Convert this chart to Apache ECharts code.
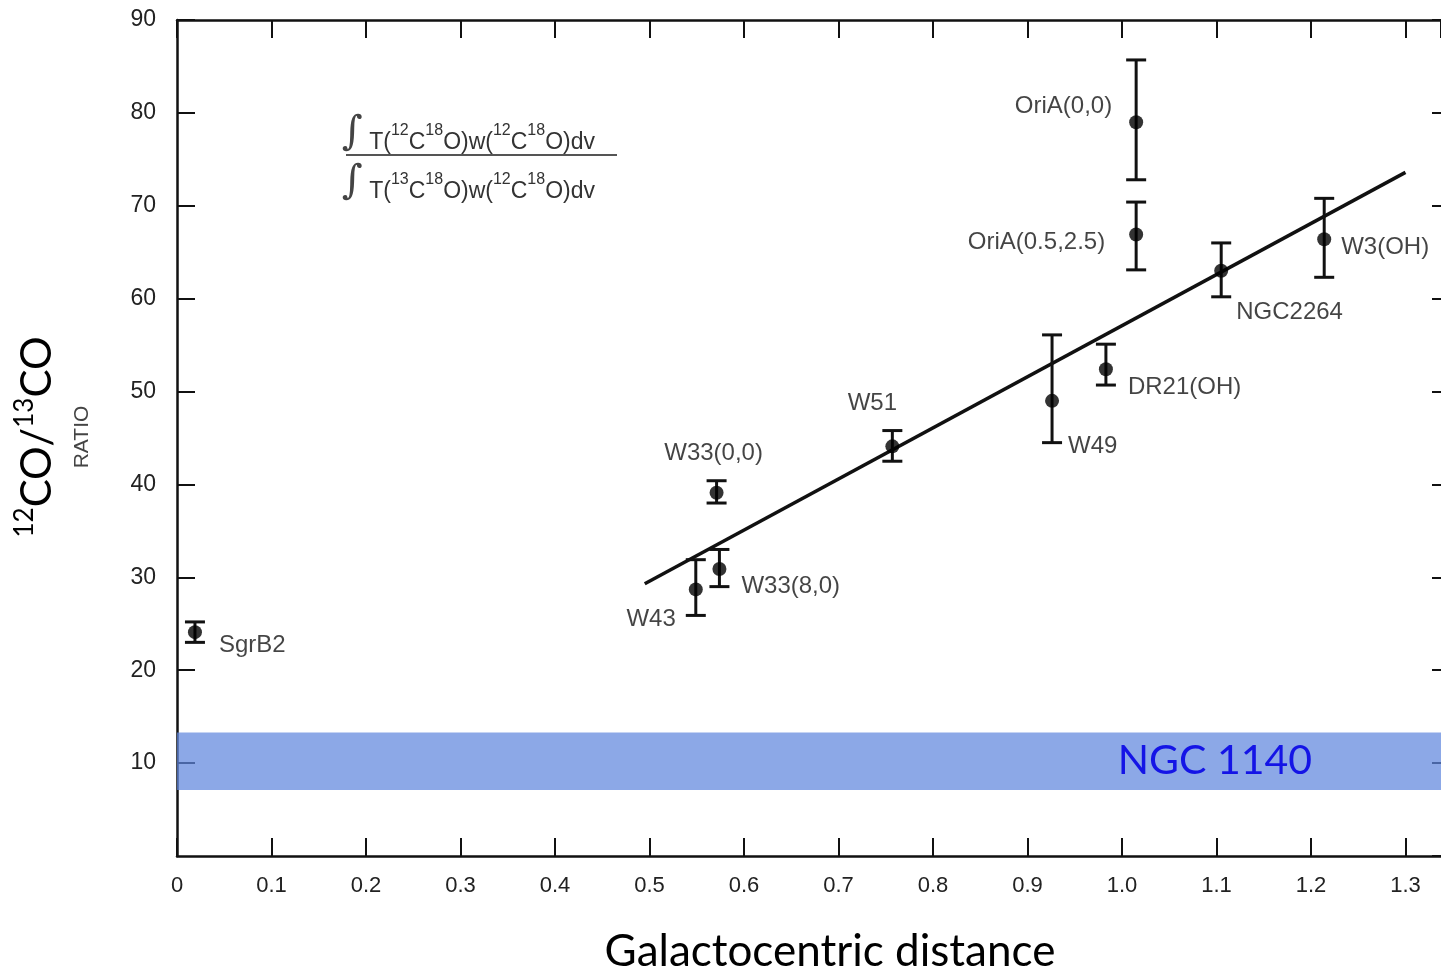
<!DOCTYPE html>
<html><head><meta charset="utf-8">
<script src="https://cdn.jsdelivr.net/npm/echarts@6/dist/echarts.min.js"></script>
<style>html,body{margin:0;padding:0;background:#fff}#c{width:1441px;height:972px}</style>
</head><body><div id="c"></div>
<script>
// ---- data ----
const names  = ['SgrB2','W43','W33(8,0)','W33(0,0)','W51','W49','DR21(OH)','OriA(0,0)','OriA(0.5,2.5)','NGC2264','W3(OH)'];
const xs     = [0.019, 0.549, 0.574, 0.571, 0.757, 0.926, 0.983, 1.015, 1.015, 1.105, 1.214];
const ys     = [24.1, 28.7, 30.9, 39.1, 44.1, 49.0, 52.4, 79.0, 66.9, 63.0, 66.4];
const errLo  = [23.0, 25.9, 29.0, 38.0, 42.5, 44.5, 50.7, 72.8, 63.1, 60.2, 62.3];
const errHi  = [25.2, 31.9, 33.0, 40.4, 45.8, 56.1, 55.1, 85.7, 70.4, 66.0, 70.8];
const fitX   = [0.495, 1.30];
const fitY   = [29.3, 73.6];
const bandRange = [7.1, 13.3];
const bandLabel = 'NGC 1140';
const xTickLabels = ['0','0.1','0.2','0.3','0.4','0.5','0.6','0.7','0.8','0.9','1.0','1.1','1.2','1.3'];
const yTickLabels = ['','10','20','30','40','50','60','70','80','90'];

// ---- label placement (style only) ----
const labelPlace = {
  'SgrB2':        {align:'left',   offset:[24, 13]},
  'W43':          {align:'right',  offset:[-20, 30]},
  'W33(8,0)':     {align:'left',   offset:[22, 17]},
  'W33(0,0)':     {align:'center', offset:[-3, -39]},
  'W51':          {align:'center', offset:[-20, -43]},
  'W49':          {align:'left',   offset:[16, 46]},
  'DR21(OH)':     {align:'left',   offset:[22, 18]},
  'OriA(0,0)':    {align:'right',  offset:[-24, -16]},
  'OriA(0.5,2.5)':{align:'right',  offset:[-31, 8]},
  'NGC2264':      {align:'left',   offset:[15, 42]},
  'W3(OH)':       {align:'left',   offset:[17, 8]}
};

const ink = '#111';
const pointData = names.map((n, i) => ({
  name: n, value: [xs[i], ys[i]],
  label: Object.assign({show:true, position:'inside', formatter:'{b}', verticalAlign:'middle',
    fontSize:24, color:'#151515', fontFamily:'Liberation Sans'}, labelPlace[n])
}));
const errData = names.map((n, i) => [xs[i], errLo[i], errHi[i]]);
const fitData = fitX.map((x, i) => [x, fitY[i]]);

const xFmt = v => { const i = Math.round(v * 10); return (Math.abs(v - i / 10) < 1e-6 && i < xTickLabels.length) ? xTickLabels[i] : ''; };
const yFmt = v => { const i = Math.round(v / 10); return (Math.abs(v - i * 10) < 1e-6 && i < yTickLabels.length) ? yTickLabels[i] : ''; };

const axLine = {show:true, onZero:false, lineStyle:{color:ink, width:2.5}};
const axTick = {show:true, inside:true, length:18, lineStyle:{color:ink, width:2}};
const XMAX = 1.3376;

const chart = echarts.init(document.getElementById('c'));
chart.setOption({
  backgroundColor:'#fff',
  animation:false,
  grid:{left:177, top:20, bottom:116, right:0, containLabel:false},
  xAxis:[
    {type:'value', position:'bottom', min:0, max:XMAX, interval:0.1,
     axisLine:axLine, axisTick:axTick, splitLine:{show:false},
     axisLabel:{formatter:xFmt, margin:19, fontSize:22, color:'#222', fontFamily:'Liberation Sans', showMaxLabel:false}},
    {type:'value', position:'top', min:0, max:XMAX, interval:0.1,
     axisLine:axLine, axisTick:axTick, splitLine:{show:false}, axisLabel:{show:false}}
  ],
  yAxis:[
    {type:'value', position:'left', min:0, max:90, interval:10,
     axisLine:axLine, axisTick:axTick, splitLine:{show:false},
     axisLabel:{formatter:yFmt, margin:21, fontSize:23, color:'#222', fontFamily:'Liberation Sans', showMinLabel:false}},
    {type:'value', position:'right', min:0, max:90, interval:10,
     axisLine:{show:false, onZero:false}, axisTick:{show:true, inside:true, length:9, lineStyle:{color:ink, width:2}},
     splitLine:{show:false}, axisLabel:{show:false}}
  ],
  series:[
    {type:'line', data:fitData, showSymbol:false, symbol:'none', lineStyle:{color:ink, width:3.5}, z:3,
     markArea:{silent:true,
       itemStyle:{color:'rgba(95,135,222,0.72)'},
       label:{show:true, position:'insideRight', distance:129, formatter:bandLabel,
              fontSize:41, color:'#1414e6', fontFamily:'Lato'},
       data:[[{yAxis:bandRange[0]},{yAxis:bandRange[1]}]]}},
    {type:'custom', data:errData, encode:{x:0, y:[1,2]}, z:4,
     renderItem:(params, api) => {
       const x = api.value(0), lo = api.value(1), hi = api.value(2);
       const p1 = api.coord([x, lo]), p2 = api.coord([x, hi]);
       const w = 10, st = {stroke:ink, lineWidth:3};
       return {type:'group', children:[
         {type:'line', shape:{x1:p1[0], y1:p1[1], x2:p2[0], y2:p2[1]}, style:st},
         {type:'line', shape:{x1:p1[0]-w, y1:p1[1], x2:p1[0]+w, y2:p1[1]}, style:st},
         {type:'line', shape:{x1:p2[0]-w, y1:p2[1], x2:p2[0]+w, y2:p2[1]}, style:st}
       ]};
     }},
    {type:'scatter', data:pointData, symbol:'circle', symbolSize:14, itemStyle:{color:'#000'}, z:5}
  ],
  graphic:[
    {type:'text', x:830, y:952, style:{text:'Galactocentric distance', fontSize:44, fontFamily:'Lato', fill:'#000', textAlign:'center', textVerticalAlign:'middle'}},
    {type:'text', x:35, y:437, rotation:Math.PI/2,
     style:{text:'{s|12}{b|CO/}{s|13}{b|CO}', textAlign:'center', textVerticalAlign:'middle', fill:'#000',
       rich:{b:{fontSize:42, fontFamily:'Lato', lineHeight:46, verticalAlign:'bottom'},
             s:{fontSize:26, fontFamily:'Lato', lineHeight:46, verticalAlign:'top'}}}},
    {type:'text', x:82, y:437, rotation:Math.PI/2,
     style:{text:'RATIO', fontSize:21, fontFamily:'Liberation Sans', fill:'#444', textAlign:'center', textVerticalAlign:'middle'}},
    {type:'text', x:342, y:134,
     style:{text:'{i|∫}{t| T(}{s|12}{t|C}{s|18}{t|O)w(}{s|12}{t|C}{s|18}{t|O)dv}', textAlign:'left', textVerticalAlign:'middle', fill:'#333',
       rich:{i:{fontSize:40, fontFamily:'DejaVu Serif', lineHeight:40, verticalAlign:'middle', fill:'#444'},
             t:{fontSize:23, fontFamily:'Liberation Sans', lineHeight:36, verticalAlign:'bottom', fill:'#333'},
             s:{fontSize:16, fontFamily:'Liberation Sans', lineHeight:36, verticalAlign:'top', padding:[9,0,0,0], fill:'#333'}}}},
    {type:'line', shape:{x1:346, y1:155, x2:617, y2:155}, style:{stroke:'#555', lineWidth:2}},
    {type:'text', x:342, y:183,
     style:{text:'{i|∫}{t| T(}{s|13}{t|C}{s|18}{t|O)w(}{s|12}{t|C}{s|18}{t|O)dv}', textAlign:'left', textVerticalAlign:'middle', fill:'#333',
       rich:{i:{fontSize:40, fontFamily:'DejaVu Serif', lineHeight:40, verticalAlign:'middle', fill:'#444'},
             t:{fontSize:23, fontFamily:'Liberation Sans', lineHeight:36, verticalAlign:'bottom', fill:'#333'},
             s:{fontSize:16, fontFamily:'Liberation Sans', lineHeight:36, verticalAlign:'top', padding:[9,0,0,0], fill:'#333'}}}}
  ]
});
</script></body></html>
